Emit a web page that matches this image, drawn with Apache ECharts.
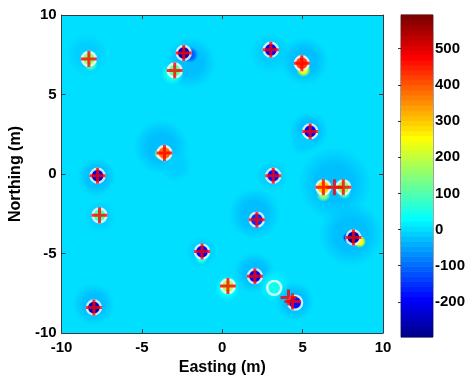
<!DOCTYPE html>
<html>
<head>
<meta charset="utf-8">
<script src="https://cdn.jsdelivr.net/npm/echarts@6/dist/echarts.min.js"></script>
<style>
  html, body { margin: 0; padding: 0; background: #fff; }
  #main { width: 468px; height: 381px; }
</style>
</head>
<body>
<div id="main"></div>
<script>
// colour scale range
var cbMin = -297;
var cbMax = 593;
var cbTicks = [-200, -100, 0, 100, 200, 300, 400, 500];

// red "+" markers
var plusX = [-8.30, -2.40, -2.96, 3.02, 4.95, 5.47, -3.60, -7.76, 3.17, 6.29, 6.98, 7.53, -7.64, 2.15, 8.16, -1.26, 2.03, 0.35, 4.12, 4.37, -7.99];
var plusY = [7.24, 7.61, 6.51, 7.81, 6.97, 2.68, 1.32, -0.11, -0.11, -0.84, -0.84, -0.84, -2.60, -2.87, -3.99, -4.88, -6.43, -7.05, -7.76, -8.02, -8.40];

// white rings and the value inside each ring
var ringX = [-8.30, -2.40, -2.96, 3.02, 4.95, 5.47, -3.60, -7.76, 3.17, 6.29, 7.53, -7.64, 2.15, 8.16, -1.26, 2.03, 0.35, 3.23, 4.53, -7.99];
var ringY = [7.24, 7.61, 6.51, 7.81, 6.97, 2.68, 1.32, -0.11, -0.11, -0.84, -0.84, -2.60, -2.87, -3.99, -4.88, -6.43, -7.05, -7.16, -8.09, -8.40];
var coreVal = [150, -260, 120, -200, 420, -200, 380, -230, -180, 300, 160, 100, -150, -280, -200, -200, 180, 40, -180, -250];

// soft anomalies around the sources (x, y, value, radius in m)
var blobX = [-8.4, -8.2, -2.0, -2.0, -3.1, 3.0, 5.1, 5.05, 4.75, 5.4, 5.0, -3.8, -2.9, -3.9, -7.8, 3.1, 7.0, 6.3, 7.6, -7.6, 2.0, 8.0, 8.55, 7.85, -1.3, -1.3, 2.0, 0.3, 3.2, 3.2, 4.5, -8.0];
var blobY = [7.5, 6.9, 7.0, 7.5, 6.3, 7.6, 7.1, 6.55, 7.0, 2.7, 2.0, 1.7, 0.5, 1.25, -0.2, -0.1, -0.6, -1.3, -1.2, -2.7, -2.5, -3.8, -4.25, -4.0, -4.9, -5.3, -6.2, -7.2, -7.0, -7.2, -8.0, -8.2];
var blobVal = [-18, 90, -22, -110, 40, -18, -25, 220, -150, -22, -15, -20, -18, 170, -25, -18, -20, 140, 80, -12, -20, -22, 250, -200, -18, 60, -20, 30, 12, 40, -20, -22];
var blobR = [1.3, 0.45, 1.6, 0.5, 0.7, 1.3, 1.5, 0.45, 0.3, 1.2, 0.8, 1.7, 1.0, 0.35, 1.2, 1.0, 2.3, 0.45, 0.4, 1.0, 1.6, 2.0, 0.4, 0.35, 1.0, 0.4, 1.3, 0.8, 1.0, 0.6, 1.2, 1.3];

// MATLAB jet(64)
function jetU(j) {
  if (j < 1 || j > 47) return 0;
  if (j <= 16) return j / 16;
  if (j <= 31) return 1;
  return (48 - j) / 16;
}
function jet(n) {
  var out = [];
  for (var k = 1; k <= n; k++) {
    var r = Math.round(255 * jetU(k - 24)), g = Math.round(255 * jetU(k - 8)), b = Math.round(255 * jetU(k + 8));
    out.push('rgb(' + r + ',' + g + ',' + b + ')');
  }
  return out;
}
var jetColors = jet(64);
var step = (cbMax - cbMin) / 64;
var pieces = [];
var barData = [];
for (var i = 0; i < 64; i++) {
  var lo = cbMin + i * step, hi = lo + step;
  pieces.push({ gte: i === 0 ? -1e9 : lo, lt: i === 63 ? 1e9 : hi, color: jetColors[i] });
  barData.push([0, lo, lo + step / 2, hi]);
}
function bgColor() {
  return jetColors[Math.floor((0 - cbMin) / step)];
}

var blobData = blobX.map(function (x, i) { return [x, blobY[i], blobVal[i], blobR[i]]; });
var coreData = ringX.map(function (x, i) { return [x, ringY[i], coreVal[i], 0.45]; });
var ringData = ringX.map(function (x, i) { return [x, ringY[i]]; });
var plusData = plusX.map(function (x, i) { return [x, plusY[i]]; });

function blobItem(solid) {
  return function (params, api) {
    var c = api.coord([api.value(0), api.value(1)]);
    var r = api.size([api.value(3), 0])[0];
    var col = api.visual('color');
    return {
      type: 'circle',
      shape: { cx: c[0], cy: c[1], r: r },
      style: {
        fill: new echarts.graphic.RadialGradient(0.5, 0.5, 0.5, [
          { offset: 0, color: col },
          { offset: solid, color: col },
          { offset: 1, color: echarts.color.modifyAlpha(col, 0) }
        ])
      }
    };
  };
}

var font = 'Liberation Sans, Arial, sans-serif';
var lineCol = '#3a3a3a';
var chart = echarts.init(document.getElementById('main'));
var option = {
  animation: false,
  grid: [
    { left: 61, top: 15, width: 322, height: 322, show: true, backgroundColor: bgColor(), borderWidth: 0 },
    { left: 401, top: 15, width: 32, height: 322, show: true, borderColor: lineCol, borderWidth: 1 }
  ],
  visualMap: {
    type: 'piecewise', show: false, dimension: 2, seriesIndex: [0, 1, 2], pieces: pieces
  },
  xAxis: [
    { gridIndex: 0, type: 'value', min: -10, max: 10, interval: 5, position: 'bottom',
      axisLine: { show: true, onZero: false, lineStyle: { color: lineCol } },
      axisTick: { inside: true, length: 4, lineStyle: { color: lineCol } },
      splitLine: { show: false },
      axisLabel: { color: '#000', fontWeight: 'bold', fontSize: 15, fontFamily: font, margin: 7 },
      name: 'Easting (m)', nameLocation: 'middle', nameGap: 27,
      nameTextStyle: { color: '#000', fontWeight: 'bold', fontSize: 16, fontFamily: font } },
    { gridIndex: 0, type: 'value', min: -10, max: 10, interval: 5, position: 'top',
      axisLine: { show: true, onZero: false, lineStyle: { color: lineCol } },
      axisTick: { inside: true, length: 4, lineStyle: { color: lineCol } },
      splitLine: { show: false }, axisLabel: { show: false } },
    { gridIndex: 1, type: 'value', min: 0, max: 1, show: false }
  ],
  yAxis: [
    { gridIndex: 0, type: 'value', min: -10, max: 10, interval: 5, position: 'left',
      axisLine: { show: true, onZero: false, lineStyle: { color: lineCol } },
      axisTick: { inside: true, length: 4, lineStyle: { color: lineCol } },
      splitLine: { show: false },
      axisLabel: { color: '#000', fontWeight: 'bold', fontSize: 15, fontFamily: font, margin: 5 },
      name: 'Northing (m)', nameLocation: 'middle', nameGap: 33,
      nameTextStyle: { color: '#000', fontWeight: 'bold', fontSize: 16, fontFamily: font } },
    { gridIndex: 0, type: 'value', min: -10, max: 10, interval: 5, position: 'right',
      axisLine: { show: true, onZero: false, lineStyle: { color: lineCol } },
      axisTick: { inside: true, length: 4, lineStyle: { color: lineCol } },
      splitLine: { show: false }, axisLabel: { show: false } },
    { gridIndex: 1, type: 'value', min: cbMin, max: cbMax, position: 'right',
      axisLine: { show: true, lineStyle: { color: lineCol } },
      axisTick: { inside: true, length: 3, customValues: cbTicks, lineStyle: { color: lineCol } },
      splitLine: { show: false },
      axisLabel: { customValues: cbTicks, color: '#000', fontWeight: 'bold', fontSize: 15, fontFamily: font, margin: 2 } }
  ],
  series: [
    { type: 'custom', xAxisIndex: 0, yAxisIndex: 0, clip: true, data: blobData,
      renderItem: blobItem(0.5), encode: { x: 0, y: 1 }, silent: true },
    { type: 'custom', xAxisIndex: 0, yAxisIndex: 0, clip: true, data: coreData,
      renderItem: blobItem(0.8), encode: { x: 0, y: 1 }, silent: true },
    { type: 'custom', xAxisIndex: 2, yAxisIndex: 2, data: barData, silent: true,
      encode: { x: 0, y: [1, 3] },
      renderItem: function (params, api) {
        var p1 = api.coord([0, api.value(3)]);
        var p2 = api.coord([1, api.value(1)]);
        return { type: 'rect', shape: { x: p1[0], y: p1[1] - 0.3, width: p2[0] - p1[0], height: p2[1] - p1[1] + 0.6 },
          style: { fill: api.visual('color') } };
      } },
    { type: 'scatter', xAxisIndex: 0, yAxisIndex: 0, data: ringData, symbol: 'circle', symbolSize: 14,
      itemStyle: { color: 'rgba(0,0,0,0)', borderColor: '#fff', borderWidth: 2.4 }, silent: true },
    { type: 'scatter', xAxisIndex: 0, yAxisIndex: 0, data: plusData,
      symbol: 'path://M0,6.5h16v3h-16z M6.5,0h3v16h-3z', symbolSize: 16,
      itemStyle: { color: '#ff0000' }, silent: true }
  ]
};
chart.setOption(option);
</script>
</body>
</html>
